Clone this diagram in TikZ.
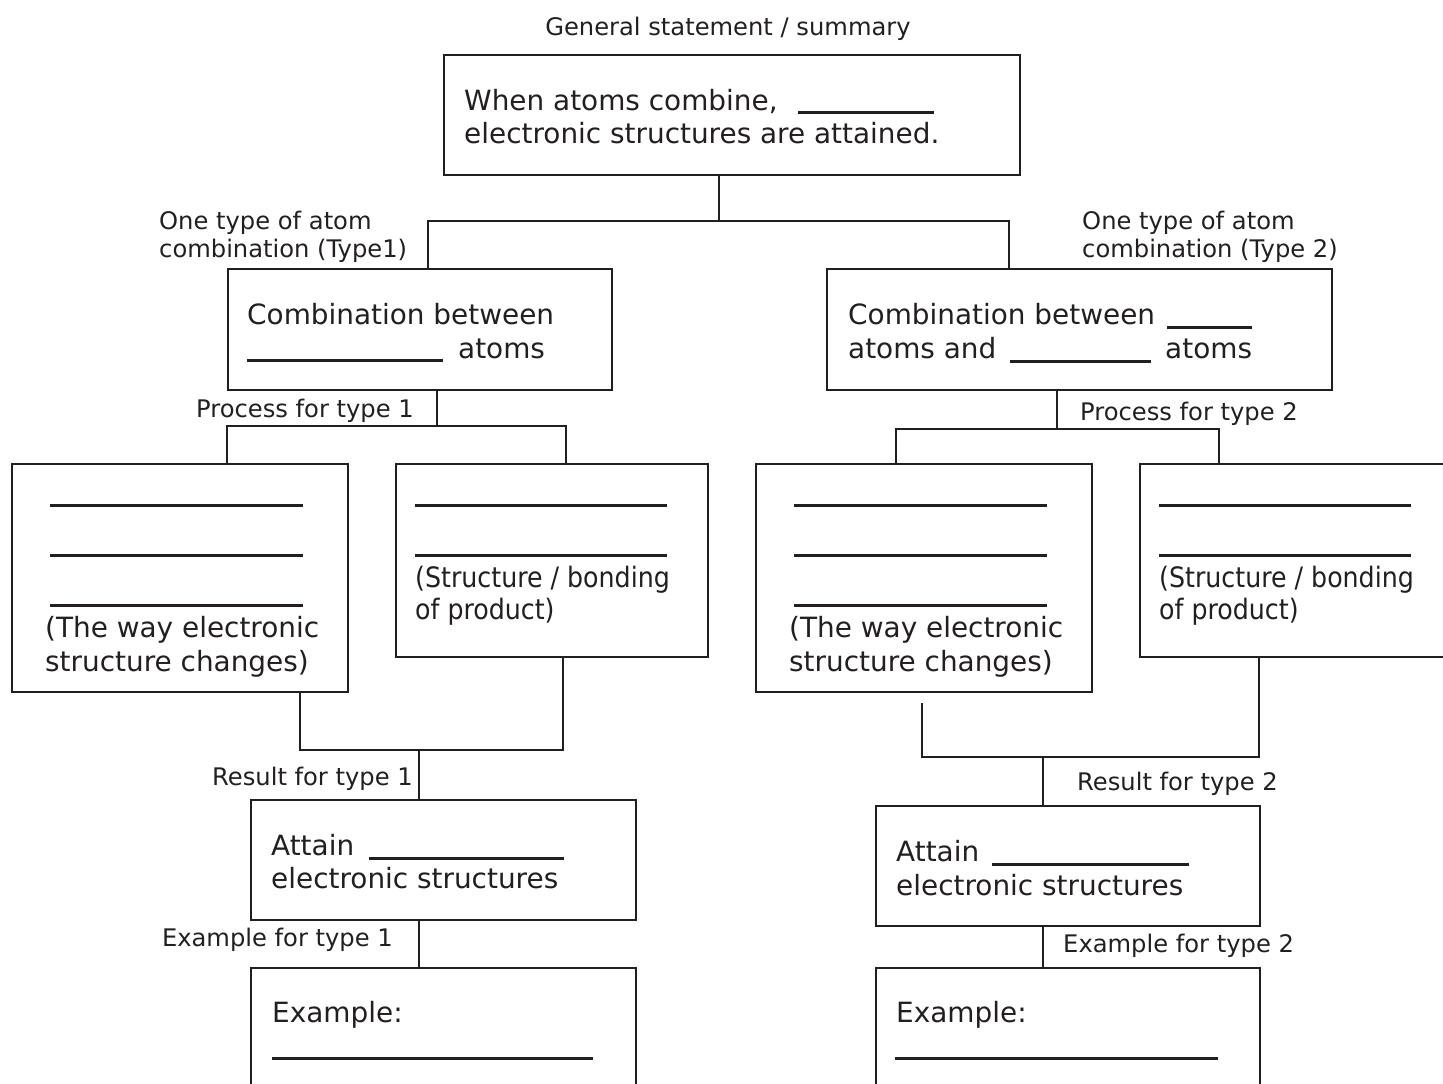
\documentclass[tikz,border=0pt]{standalone}
\usepackage{fontspec}
\setmainfont{DejaVu Sans}
\newfontfamily\condfont{DejaVu Sans Condensed}
\definecolor{ink}{HTML}{231F20}
\begin{document}
\begin{tikzpicture}[x=1pt,y=-1pt,
  box/.style={draw=ink, line width=2pt, rectangle, inner sep=0pt, anchor=north west},
  link/.style={draw=ink, line width=2pt},
  blank/.style={draw=ink, line width=3pt},
  big/.style={inner sep=0pt, anchor=base west, text=ink, font=\fontsize{27.9}{33}\selectfont},
  small/.style={inner sep=0pt, text=ink, font=\fontsize{24.2}{28}\selectfont},
  cond/.style={inner sep=0pt, anchor=base west, text=ink, font=\condfont\fontsize{28.1}{33}\selectfont}
]
\useasboundingbox (0,0) rectangle (1443,1084);
\clip (0,0) rectangle (1443,1084);
\fill[white] (0,0) rectangle (1443,1084);

% boxes
\node[box, minimum width=576pt, minimum height=120pt] (top) at (443,54) {};
\node[box, minimum width=384pt, minimum height=121pt] (l1) at (227,268) {};
\node[box, minimum width=505pt, minimum height=121pt] (r1) at (826,268) {};
\node[box, minimum width=336pt, minimum height=228pt] (l2a) at (11,463) {};
\node[box, minimum width=312pt, minimum height=193pt] (l2b) at (395,463) {};
\node[box, minimum width=336pt, minimum height=228pt] (r2a) at (755,463) {};
\node[box, minimum width=330pt, minimum height=193pt] (r2b) at (1139,463) {};
\node[box, minimum width=385pt, minimum height=120pt] (l3) at (250,799) {};
\node[box, minimum width=384pt, minimum height=120pt] (r3) at (875,805) {};
\node[box, minimum width=385pt, minimum height=150pt] (l4) at (250,967) {};
\node[box, minimum width=384pt, minimum height=150pt] (r4) at (875,967) {};

% junction coordinates
\coordinate (jt) at (719,221);
\coordinate (jl) at (428,221);
\coordinate (jr) at (1009,221);
\coordinate (p1) at (437,426);
\coordinate (pa) at (227,426);
\coordinate (pb) at (566,426);
\coordinate (p2) at (1057,429);
\coordinate (pc) at (896,429);
\coordinate (pd) at (1219,429);
\coordinate (ra) at (300,750);
\coordinate (rb) at (563,750);
\coordinate (r1j) at (419,750);
\coordinate (rs) at (922,703);
\coordinate (rc) at (922,757);
\coordinate (rd) at (1259,757);
\coordinate (r2j) at (1043,757);

% connectors
\draw[link] (top.south -| jt) -- (jt);
\draw[link] (l1.north -| jl) -- (jl) -- (jr) -- (r1.north -| jr);
\draw[link] (l1.south -| p1) -- (p1);
\draw[link] (l2a.north -| pa) -- (pa) -- (pb) -- (l2b.north -| pb);
\draw[link] (r1.south -| p2) -- (p2);
\draw[link] (r2a.north -| pc) -- (pc) -- (pd) -- (r2b.north -| pd);
\draw[link] (l2a.south -| ra) -- (ra) -- (rb) -- (l2b.south -| rb);
\draw[link] (r1j) -- (l3.north -| r1j);
\draw[link] (l3.south -| r1j) -- (l4.north -| r1j);
\draw[link] (rs) -- (rc) -- (rd) -- (r2b.south -| rd);
\draw[link] (r2j) -- (r3.north -| r2j);
\draw[link] (r3.south -| r2j) -- (r4.north -| r2j);

% labels
\node[small, anchor=base] (lgen) at (728,35) {General statement / summary};
\node[small, anchor=base west] (lt1a) at (159,229) {One type of atom};
\node[small, anchor=base west] (lt1b) at (159,257) {combination (Type1)};
\node[small, anchor=base west] (lt2a) at (1082,229) {One type of atom};
\node[small, anchor=base west] (lt2b) at (1082,257) {combination (Type 2)};
\node[small, anchor=base east] (lp1) at (414,417) {Process for type 1};
\node[small, anchor=base west] (lp2) at (1080,420) {Process for type 2};
\node[small, anchor=base east] (lr1) at (413,785) {Result for type 1};
\node[small, anchor=base west] (lr2) at (1077,790) {Result for type 2};
\node[small, anchor=base east] (le1) at (393,946) {Example for type 1};
\node[small, anchor=base west] (le2) at (1063,952) {Example for type 2};

% top box text
\node[big] (tt1) at (464,110) {When atoms combine,};
\draw[blank] (798,112) -- (934,112);
\node[big] (tt2) at (464,143) {electronic structures are attained.};

% level 1 text
\node[big] (l1t1) at (247,324) {Combination between};
\draw[blank] (247,360) -- (443,360);
\node[big] (l1t2) at (458,358) {atoms};
\node[big] (r1t1) at (848,324) {Combination between};
\draw[blank] (1167,327) -- (1252,327);
\node[big] (r1t2) at (848,358) {atoms and};
\draw[blank] (1010,361) -- (1151,361);
\node[big] (r1t3) at (1165,358) {atoms};

% level 2 left
\foreach \yy in {505,555,605} \draw[blank] (50,\yy) -- (303,\yy);
\node[big] (l2at1) at (45,637) {(The way electronic};
\node[big] (l2at2) at (45,671) {structure changes)};
\foreach \yy in {505,555} \draw[blank] (415,\yy) -- (667,\yy);
\node[cond] (l2bt1) at (415,587) {(Structure / bonding};
\node[cond] (l2bt2) at (415,619) {of product)};

% level 2 right
\foreach \yy in {505,555,605} \draw[blank] (794,\yy) -- (1047,\yy);
\node[big] (r2at1) at (789,637) {(The way electronic};
\node[big] (r2at2) at (789,671) {structure changes)};
\foreach \yy in {505,555} \draw[blank] (1159,\yy) -- (1411,\yy);
\node[cond] (r2bt1) at (1159,587) {(Structure / bonding};
\node[cond] (r2bt2) at (1159,619) {of product)};

% level 3
\node[big] (l3t1) at (271,855) {Attain};
\draw[blank] (369,858) -- (564,858);
\node[big] (l3t2) at (271,888) {electronic structures};
\node[big] (r3t1) at (896,861) {Attain};
\draw[blank] (992,864) -- (1189,864);
\node[big] (r3t2) at (896,895) {electronic structures};

% level 4
\node[big] (l4t1) at (272,1022) {Example:};
\draw[blank] (272,1058) -- (593,1058);
\node[big] (r4t1) at (896,1022) {Example:};
\draw[blank] (895,1058) -- (1218,1058);
\end{tikzpicture}
\end{document}
